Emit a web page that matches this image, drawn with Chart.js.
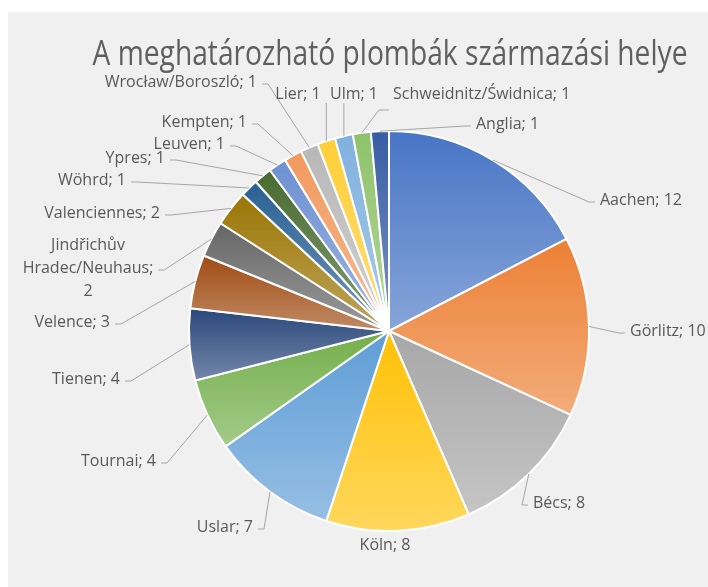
<!DOCTYPE html>
<html><head><meta charset="utf-8">
<script src="https://cdn.jsdelivr.net/npm/chart.js@4/dist/chart.umd.min.js"></script>
<style>html,body{margin:0;padding:0;background:#fff;} canvas{display:block}</style>
</head><body>
<canvas id="c" width="708" height="587"></canvas>
<script>
const chartTitle = 'A meghatározható plombák származási helye';
const categories = ['Aachen','Görlitz','Bécs','Köln','Uslar','Tournai','Tienen','Velence','Jindřichův Hradec/Neuhaus','Valenciennes','Wöhrd','Ypres','Leuven','Kempten','Wrocław/Boroszló','Lier','Ulm','Schweidnitz/Świdnica','Anglia'];
const values = [12,10,8,8,7,4,4,3,2,2,1,1,1,1,1,1,1,1,1];

const sliceColors = ['#4472C4','#ED7D31','#A5A5A5','#FFC000','#5B9BD5','#70AD47','#264478','#9E480E','#636363','#997300','#255E91','#43682B','#698ED0','#F1975A','#B7B7B7','#FFCD33','#7CAFDD','#8CC168','#335AA1'];

// label placement relative to the pie centre, in units of the pie radius
const labelLayout = [
  [1.055,-0.655,'left','left'],
  [1.205,0.0,'left','left'],
  [0.72,0.86,'left','left'],
  [-0.02,1.07,'center','none'],
  [-0.68,0.98,'right','right'],
  [-1.165,0.65,'right','right'],
  [-1.345,0.24,'right','right'],
  [-1.395,-0.045,'right','right'],
  [-1.505,-0.315,'center','right'],
  [-1.145,-0.59,'right','right'],
  [-1.315,-0.755,'right','right'],
  [-1.12,-0.865,'right','right'],
  [-0.82,-0.935,'right','right'],
  [-0.71,-1.045,'right','right'],
  [-0.66,-1.245,'right','right'],
  [-0.455,-1.185,'center','bottom'],
  [-0.175,-1.185,'center','bottom'],
  [0.02,-1.185,'left','bottomleft'],
  [0.435,-1.035,'left','left']
];
const wrappedLabels = [8];

function mix(hex, t){
  const n = parseInt(hex.slice(1),16);
  let r=(n>>16)&255, g=(n>>8)&255, b=n&255;
  r=Math.round(r+(255-r)*t); g=Math.round(g+(255-g)*t); b=Math.round(b+(255-b)*t);
  return `rgb(${r},${g},${b})`;
}

const bgPlugin = {
  id:'bg',
  beforeDraw(chart){
    const c = chart.ctx;
    c.save();
    c.fillStyle='#ffffff'; c.fillRect(0,0,chart.width,chart.height);
    c.fillStyle='#F0F0F0'; c.fillRect(8,12,chart.width-8,chart.height-12);
    c.restore();
  }
};

const gradientPlugin = {
  id:'grad',
  beforeDatasetsDraw(chart){
    const meta = chart.getDatasetMeta(0);
    const c = chart.ctx;
    meta.data.forEach((el,i)=>{
      const {x,y,startAngle,endAngle,outerRadius} = el;
      let minY = y, maxY = y;
      const steps = 40;
      for(let k=0;k<=steps;k++){
        const a = startAngle + (endAngle-startAngle)*k/steps;
        const py = y + outerRadius*Math.sin(a);
        minY=Math.min(minY,py); maxY=Math.max(maxY,py);
      }
      const g = c.createLinearGradient(0,minY,0,maxY);
      g.addColorStop(0, mix(sliceColors[i],0.02));
      g.addColorStop(1, mix(sliceColors[i],0.36));
      el.options = Object.assign({}, el.options, {backgroundColor:g});
    });
  }
};

const labelPlugin = {
  id:'labels',
  afterDatasetsDraw(chart){
    const meta = chart.getDatasetMeta(0);
    const c = chart.ctx;
    c.save();
    c.font = '35px "Open Sans"';
    const tw = c.measureText(chartTitle).width;
    c.fillStyle = '#5F5F5F';
    c.textAlign='center'; c.textBaseline='alphabetic';
    c.save(); c.translate(390, 65); c.scale(595/tw,1); c.fillText(chartTitle,0,0); c.restore();

    c.font = '16px "Open Sans"';
    c.textBaseline='middle';
    const lh = 23;
    meta.data.forEach((el,i)=>{
      const {x,y,startAngle,endAngle,outerRadius:R} = el;
      const [dx,dy,align,attach] = labelLayout[i];
      const text = categories[i] + '; ' + values[i];
      const lines = wrappedLabels.includes(i) ? text.split(' ') : [text];
      const widths = lines.map(l=>c.measureText(l).width);
      const w = Math.max(...widths);
      const ax = x + dx*R, cy = y + dy*R;
      let left, right;
      if(align==='left'){left=ax; right=ax+w;}
      else if(align==='right'){left=ax-w; right=ax;}
      else {left=ax-w/2; right=ax+w/2;}
      const mid = (startAngle+endAngle)/2;
      const px = x + R*Math.cos(mid), py = y + R*Math.sin(mid);
      let pts = null;
      if(attach==='left'){ const A=[left-5,cy+2]; pts=[[px,py],[A[0]-6,A[1]],A]; }
      else if(attach==='right'){ const A=[right+5,cy+2]; pts=[[px,py],[A[0]+6,A[1]],A]; }
      else if(attach==='bottom'){ const A=[Math.min(Math.max(px,left),right+6), cy+9]; pts=[[px,py],A]; }
      else if(attach==='bottomleft'){ const A=[left-4,cy+16]; pts=[[px,py],[A[0]-10,A[1]],A]; }
      if(pts){
        c.strokeStyle='#A6A6A6'; c.lineWidth=1;
        c.beginPath(); c.moveTo(pts[0][0],pts[0][1]);
        for(let k=1;k<pts.length;k++) c.lineTo(pts[k][0],pts[k][1]);
        c.stroke();
      }
      c.fillStyle='#595959';
      lines.forEach((l,k)=>{
        const ly = cy + (k - (lines.length-1)/2)*lh;
        c.textAlign = align;
        c.fillText(l, ax, ly);
      });
    });
    c.restore();
  }
};

new Chart(document.getElementById('c'), {
  type:'pie',
  data:{labels:categories, datasets:[{data:values, backgroundColor:sliceColors, borderColor:'#ffffff', borderWidth:2, hoverOffset:0, offset:0}]},
  options:{
    responsive:false, animation:false,
    layout:{padding:{left:188,right:118,top:130,bottom:55}},
    plugins:{legend:{display:false}, tooltip:{enabled:false}, title:{display:false}},
    events:[]
  },
  plugins:[bgPlugin, gradientPlugin, labelPlugin]
});
</script>
</body></html>
